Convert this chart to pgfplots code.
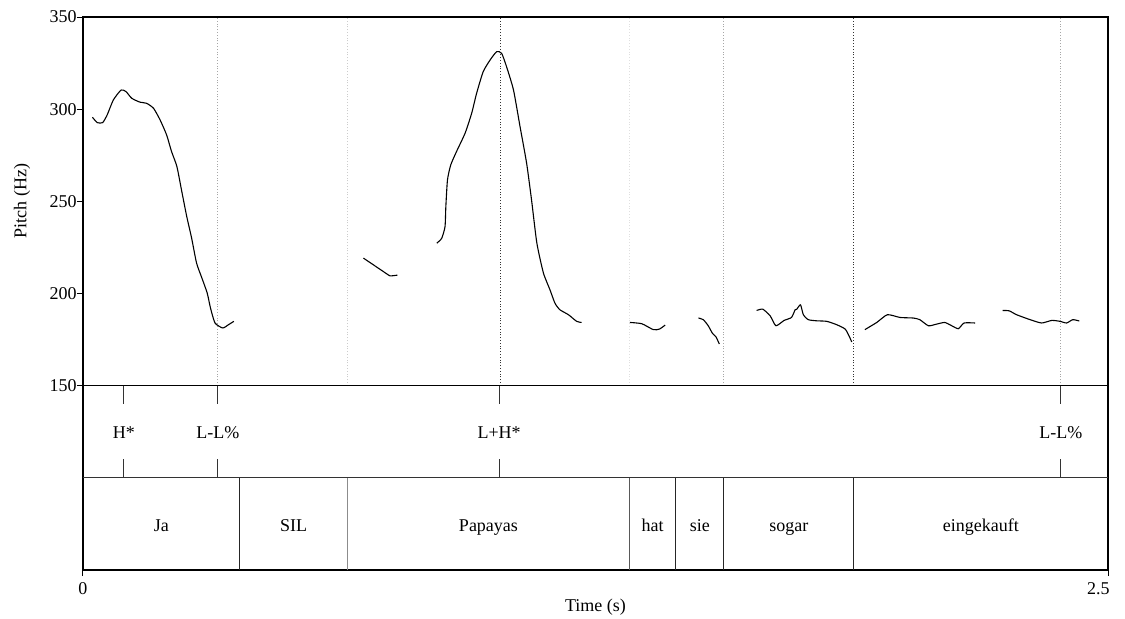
\documentclass[border=0pt]{standalone}
\usepackage{fontspec}
\setmainfont{Liberation Serif}
\usepackage{pgfplots}
\pgfplotsset{compat=1.18}
\tikzset{
  pitch/.style={black, line width=0.55pt, line join=round, solid, smooth, tension=0.35},
  lbl/.style={text height=0.68em, text depth=0.22em, inner sep=0pt},
}
\begin{document}
\fontsize{9}{10.8}\selectfont
\begin{tikzpicture}
\begin{axis}[
  at={(0,0)}, anchor=south west,
  scale only axis, width=512.5pt, height=276.5pt,
  xmin=0, xmax=2.5, ymin=50, ymax=350,
  axis line style={line width=0.65pt},
  ytick={150,200,250,300,350},
  xtick={0},
  extra x ticks={2.5},
  extra x tick style={xticklabel style={anchor=north east, xshift=4pt}},
  tick align=outside, major tick length=3pt,
  tick style={black, line width=0.5pt},
  ytick pos=left, xtick pos=bottom,
  yticklabel style={xshift=3pt},
  xlabel={Time (s)}, ylabel={Pitch (Hz)},
  xlabel style={at={(axis description cs:0.5,0)}, anchor=center, yshift=-18.5pt},
  ylabel style={at={(axis description cs:-0.0595,0.667)}, anchor=center},
  /pgf/number format/assume math mode=true,
  font=\fontsize{9}{10.8}\selectfont,
  clip=false,
]
% boundaries in the pitch area
\draw[gray!70, densely dotted, line width=0.4pt] (axis cs:0.327,150) -- (axis cs:0.327,350);
\draw[gray!40, densely dotted, line width=0.4pt] (axis cs:0.644,150) -- (axis cs:0.644,350);
\draw[black!80, densely dotted, line width=0.4pt] (axis cs:1.017,150) -- (axis cs:1.017,350);
\draw[gray!25, densely dotted, line width=0.4pt] (axis cs:1.332,150) -- (axis cs:1.332,350);
\draw[gray!70, densely dotted, line width=0.4pt] (axis cs:1.561,150) -- (axis cs:1.561,350);
\draw[black!80, densely dotted, line width=0.4pt] (axis cs:1.878,150) -- (axis cs:1.878,350);
\draw[gray!70, densely dotted, line width=0.4pt] (axis cs:2.385,150) -- (axis cs:2.385,350);

\addplot[pitch, no marks] coordinates {(0.023,295.6)(0.035,292.7)(0.048,292.7)(0.059,296.9)(0.074,305.0)(0.093,310.4)(0.105,309.5)(0.119,305.9)(0.139,303.8)(0.155,303.2)(0.172,300.5)(0.188,294.2)(0.204,286.0)(0.216,277.0)(0.229,268.9)(0.241,255.3)(0.253,241.8)(0.265,230.0)(0.277,216.5)(0.290,208.4)(0.303,200.2)(0.311,192.1)(0.322,184.0)(0.341,181.3)(0.355,183.1)(0.368,184.9)};
\addplot[pitch, no marks] coordinates {(0.684,219.2)(0.708,215.6)(0.732,212.0)(0.749,209.6)(0.767,210.0)};
\addplot[pitch, no marks] coordinates {(0.863,227.3)(0.875,230.0)(0.883,236.3)(0.885,247.2)(0.889,261.7)(0.897,269.8)(0.911,277.0)(0.932,287.0)(0.948,297.8)(0.960,308.6)(0.976,320.3)(0.993,326.7)(1.009,331.2)(1.021,330.3)(1.033,323.1)(1.050,310.4)(1.066,290.5)(1.082,270.7)(1.094,250.8)(1.107,227.3)(1.123,211.1)(1.139,202.0)(1.151,194.8)(1.163,191.2)(1.184,188.5)(1.204,184.9)(1.216,184.3)};
\addplot[pitch, no marks] coordinates {(1.334,184.3)(1.363,183.6)(1.391,180.4)(1.406,180.7)(1.420,182.9)};
\addplot[pitch, no marks] coordinates {(1.501,186.7)(1.513,185.8)(1.525,182.5)(1.535,178.5)(1.544,176.4)(1.552,172.6)};
\addplot[pitch, no marks] coordinates {(1.643,190.8)(1.658,191.5)(1.676,187.9)(1.690,182.5)(1.710,185.4)(1.728,187.0)(1.737,191.2)(1.741,191.5)(1.750,193.9)(1.757,188.5)(1.769,185.8)(1.789,185.2)(1.814,184.9)(1.838,183.1)(1.859,180.7)(1.869,176.7)(1.875,173.7)};
\addplot[pitch, no marks] coordinates {(1.907,180.4)(1.936,184.3)(1.962,188.5)(1.993,187.0)(2.025,186.7)(2.041,185.8)(2.062,182.5)(2.082,183.4)(2.102,184.3)(2.119,182.5)(2.135,180.9)(2.149,184.0)(2.176,184.0)};
\addplot[pitch, no marks] coordinates {(2.243,190.8)(2.259,190.6)(2.277,188.5)(2.310,185.8)(2.338,184.0)(2.363,185.4)(2.383,184.9)(2.399,184.0)(2.414,185.8)(2.430,185.1)};

% tier separators
\draw[black, line width=0.65pt] (axis cs:0,150) -- (axis cs:2.5,150);
\draw[black!80, line width=0.5pt] (axis cs:0,100) -- (axis cs:2.5,100);

% tone tier
\draw[black!80, line width=0.5pt] (axis cs:0.100,150) -- (axis cs:0.100,140) (axis cs:0.100,110) -- (axis cs:0.100,100);
\draw[black!80, line width=0.5pt] (axis cs:0.329,150) -- (axis cs:0.329,140) (axis cs:0.329,110) -- (axis cs:0.329,100);
\draw[black!80, line width=0.5pt] (axis cs:1.015,150) -- (axis cs:1.015,140) (axis cs:1.015,110) -- (axis cs:1.015,100);
\draw[black!80, line width=0.5pt] (axis cs:2.385,150) -- (axis cs:2.385,140) (axis cs:2.385,110) -- (axis cs:2.385,100);
\node[lbl] at (axis cs:0.100,123.4) {H*};
\node[lbl] at (axis cs:0.329,123.4) {L-L\%};
\node[lbl] at (axis cs:1.015,123.4) {L+H*};
\node[lbl] at (axis cs:2.385,123.4) {L-L\%};

% word tier
\draw[black!85, line width=0.5pt] (axis cs:0.382,50) -- (axis cs:0.382,100);
\draw[black!45, line width=0.5pt] (axis cs:0.645,50) -- (axis cs:0.645,100);
\draw[black!65, line width=0.5pt] (axis cs:1.333,50) -- (axis cs:1.333,100);
\draw[black!85, line width=0.5pt] (axis cs:1.446,50) -- (axis cs:1.446,100);
\draw[black!85, line width=0.5pt] (axis cs:1.563,50) -- (axis cs:1.563,100);
\draw[black!85, line width=0.5pt] (axis cs:1.880,50) -- (axis cs:1.880,100);
\node[lbl] at (axis cs:0.191,73.4) {Ja};
\node[lbl] at (axis cs:0.5135,73.4) {SIL};
\node[lbl] at (axis cs:0.989,73.4) {Papayas};
\node[lbl] at (axis cs:1.3895,73.4) {hat};
\node[lbl] at (axis cs:1.5045,73.4) {sie};
\node[lbl] at (axis cs:1.7215,73.4) {sogar};
\node[lbl] at (axis cs:2.19,73.4) {eingekauft};
\end{axis}
\pgfresetboundingbox
\path[use as bounding box] (-41.5pt,-24pt) rectangle (521pt,285pt);
\end{tikzpicture}
\end{document}
